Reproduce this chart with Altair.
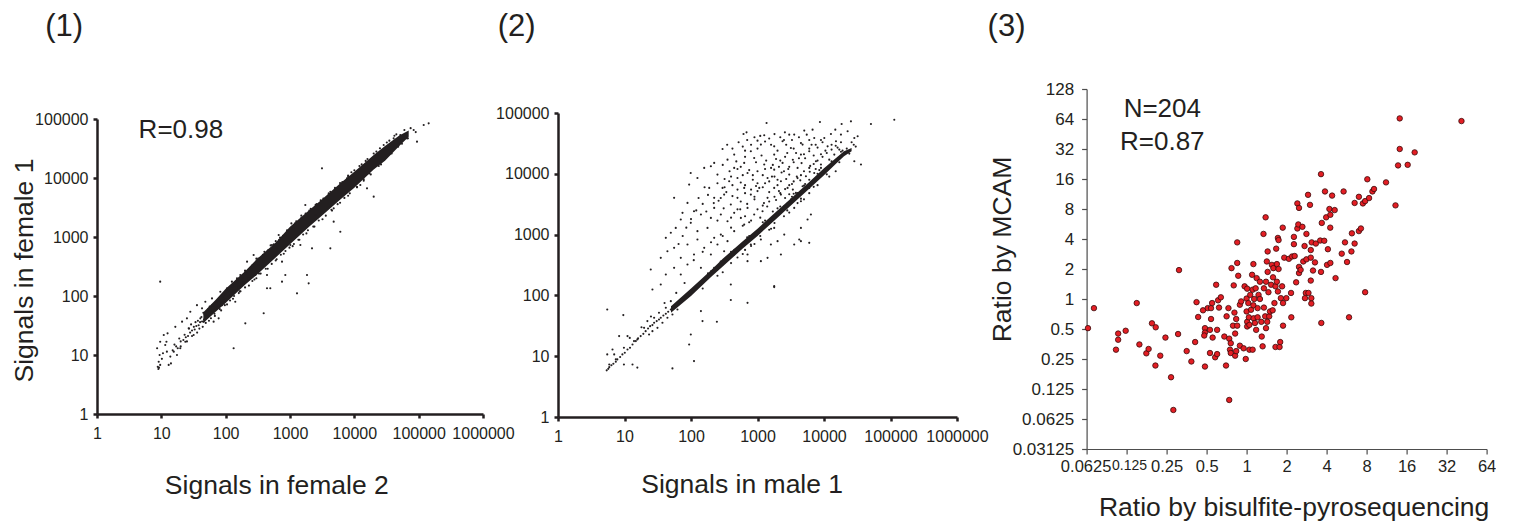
import altair as alt
import pandas as pd

FONT = "Liberation Sans"
INK = "#231f20"
GREY = "#4d4d4d"
RED = "#e31e24"

# ---------------- panel (1): female 2 (x) vs female 1 (y) ----------------
p1_core_x = [45, 70, 100, 200, 300, 600, 1000, 2000, 3000, 6000, 10000, 20000, 30000, 50000, 70000]
p1_core_lo = [35, 54, 76, 155, 225, 450, 755, 1500, 2200, 4300, 6850, 14000, 19600, 35000, 50000]
p1_core_hi = [53, 86, 133, 262, 415, 805, 1490, 2860, 4150, 8100, 12800, 24500, 35000, 52500, 64000]

p1_points = [
    (8.8, 6.3), (9.1, 7.7), (9.4, 10), (8.6, 13), (9.6, 16.8), (10.9, 21.8), (12.0, 16.8), (12.2, 11.4),
    (13.0, 6.8), (14.1, 7.2), (9.0, 5.8), (9.2, 6.1), (9.6, 6.8), (10.2, 8.6), (10.6, 10.7), (11.5, 14.8),
    (12.5, 23.3), (13.8, 9.4), (15.6, 11.4), (17.5, 10), (16.5, 30), (19.7, 13), (21, 36.7), (23.6, 16.8),
    (25, 41.8), (26.6, 28.3), (28.2, 54), (31.8, 21.8), (35.8, 70), (40.4, 41.8), (42.9, 61.8), (45.5, 36.7),
    (48.3, 80), (51.3, 47.6), (56.4, 66), (61.3, 91), (65, 36.7), (69, 58), (73, 80), (77.8, 41.8),
    (82.6, 118), (87.7, 70), (93, 91), (105, 135), (118, 104), (125, 175), (133, 126), (141, 80),
    (150, 187), (159, 144), (169, 227), (179, 154), (202, 258), (215, 382), (228, 199), (242, 294),
    (272, 495), (289, 227), (326, 335), (390, 382), (439, 564), (439, 227), (494, 135), (525, 731),
    (628, 643), (667, 1081), (751, 382), (846, 227), (1012, 731), (1140, 1403), (1449, 731), (1730, 3480),
    (2198, 643), (2477, 2360), (3141, 14590), (4236, 5860), (4775, 1820), (6055, 1230), (15740, 6680),
    (20000, 4830), (22500, 24550), (28580, 36220), (40840, 46990), (65900, 46990), (94200, 41300),
    (119700, 79100), (143000, 84500), (83600, 65200), (51900, 53500), (15740, 12800), (12390, 7600),
    (7690, 9860), (4775, 3060), (4236, 643), (1837, 227), (1950, 164), (1285, 111), (751, 175),
    (439, 135), (390, 51), (202, 34.4), (133, 13), (9.6, 175),
]
p1_low_band = [
    (15, 12), (17, 14), (18, 13), (20, 17), (22, 18), (24, 20), (26, 21), (28, 24), (30, 26), (33, 27),
    (35, 31), (38, 32), (40, 36), (43, 37), (46, 40), (50, 43), (53, 47), (56, 48), (60, 52), (63, 56),
    (66, 57), (70, 62), (74, 64), (78, 68), (82, 70), (86, 76), (90, 78), (95, 83), (100, 88), (110, 97),
    (120, 104), (130, 115), (145, 126), (160, 140), (175, 150), (190, 168),
    (16, 15), (19, 19), (23, 22), (27, 28), (32, 30), (37, 38), (42, 44), (47, 49), (52, 55), (58, 61),
    (64, 68), (72, 75), (80, 84), (88, 96), (98, 107), (108, 118), (122, 135), (138, 150), (155, 175),
    (180, 200), (210, 240), (250, 280),
    (20, 14), (25, 17), (30, 21), (36, 24), (44, 30), (55, 38), (68, 46), (85, 57), (105, 72), (130, 90),
    (160, 112), (200, 140), (260, 180), (330, 240),
    (29, 33), (34, 36), (39, 28), (45, 52), (49, 35), (54, 60), (59, 42), (62, 70), (67, 50), (76, 84),
    (81, 60), (92, 104), (97, 70), (112, 126), (117, 84), (127, 145), (135, 100), (150, 165), (165, 120),
]
p1_fringe = [
    (300, 430), (400, 560), (500, 720), (600, 850), (700, 980), (900, 1300), (1200, 1700), (1500, 2100),
    (2000, 2800), (2500, 3500), (3000, 4200), (4000, 5500), (5000, 6800), (6000, 8200), (8000, 11000),
    (9000, 12500), (12000, 16000), (15000, 19500), (20000, 26000), (25000, 32000), (35000, 43000),
    (45000, 55000), (300, 200), (450, 290), (600, 400), (800, 520), (1100, 700), (1400, 900), (1800, 1150),
    (2400, 1500), (3200, 2000), (4500, 2800), (6000, 3800), (8000, 5000), (11000, 7000), (14000, 9000),
    (18000, 11500), (26000, 17000), (38000, 26000), (55000, 38000),
    (150, 200), (170, 120), (200, 270), (230, 150), (260, 330), (280, 190), (320, 430), (350, 240),
    (380, 500), (420, 290), (460, 600), (520, 350), (560, 750), (620, 420), (680, 900), (720, 500),
    (780, 1050), (850, 580), (920, 1250), (980, 660), (1050, 1700), (1150, 760), (1250, 1850), (1350, 900),
    (1500, 2300), (1600, 1100), (1750, 2500), (1900, 1300), (2100, 3000), (2300, 1500), (2600, 3600),
    (2800, 1900), (3300, 4500), (3600, 2300), (4000, 5300), (4400, 2900), (5000, 6500), (5500, 3600),
    (6500, 8500), (7000, 4600), (8000, 10500), (8500, 5500), (10000, 13500), (11000, 7000),
    (13000, 17000), (14000, 9500), (16000, 21000), (17000, 12000), (22000, 28000), (24000, 16000),
    (32000, 40000), (36000, 26000), (42000, 52000), (48000, 34000), (60000, 65000), (68000, 47000),
    (75000, 70000), (90000, 60000),
]

# ---------------- panel (2): male 1 (x) vs female 1 (y) ----------------
p2_core_x = [50, 100, 200, 300, 600, 1000, 2000, 3000, 6000, 10000, 15000, 20000, 26000]
p2_core_lo = [52, 98, 200, 300, 590, 950, 1900, 2850, 5700, 9500, 14500, 19500, 23500]
p2_core_hi = [66, 130, 260, 400, 780, 1250, 2500, 3700, 7300, 12300, 18000, 23500, 26500]

p2_cloud = [
    (1368, 68500), (8685, 71100), (684, 48100), (616, 45200), (1262, 43000), (2582, 48100), (3565, 44100),
    (7129, 38800), (5047, 51300), (25410, 72900), (50820, 65900), (114000, 77600), (18410, 65900),
    (14790, 53200), (12710, 45200), (10100, 38800), (6731, 53200), (4764, 30200), (1783, 28300),
    (2382, 34300), (1124, 30200), (1000, 35100), (794, 23500), (446, 20700), (298, 25600), (223, 15100),
    (354, 17100), (446, 12500), (631, 15100), (891, 18200), (1262, 14200), (1783, 20700), (2382, 15100),
    (3177, 26600), (4497, 20700), (5998, 23500), (7561, 16100), (11330, 28300), (15130, 34300),
    (17990, 44100), (22650, 50000), (28560, 38800), (32060, 41400), (35970, 14200), (28560, 16100),
    (99, 10300), (125, 8550), (158, 12500), (199, 13300), (250, 9700), (298, 5860), (375, 7540),
    (500, 8550), (708, 10300), (1000, 11000), (1416, 8550), (1783, 11700), (2249, 7540), (3000, 9700),
    (4006, 12500), (5346, 9100), (7129, 10300), (8995, 14200), (12000, 17100), (14280, 20700),
    (16980, 25000), (20180, 22000), (93.8, 6650), (188, 5860), (223, 4020), (315, 4550), (397, 3120),
    (500, 4020), (631, 5860), (794, 4550), (1062, 5860), (1416, 4020), (1783, 5860), (2249, 4550),
    (2831, 5860), (3781, 4850), (4764, 6240), (5998, 5860), (4497, 3540), (3565, 2750),
    (55.7, 4020), (74.5, 2280), (88.5, 3320), (111, 2420), (141, 2140), (199, 1880), (223, 2750),
    (281, 2140), (354, 1660), (446, 2280), (562, 1880), (708, 2750), (891, 2140), (1191, 2420),
    (1589, 1770), (2003, 2140), (2523, 2930),
    (41.8, 884), (49.7, 1070), (59, 1290), (70.2, 1770), (99.3, 1560), (125, 1140), (177, 1290),
    (223, 884), (281, 1000), (354, 780), (446, 1140), (631, 1460), (794, 687), (1124, 830), (1589, 687),
    (2003, 780), (2523, 1000), (1783, 1290),
    (35.1, 415), (44.2, 533), (55.7, 605), (70.2, 415), (88.5, 687), (125, 830), (158, 605), (199, 471),
    (250, 687), (315, 533), (446, 471), (562, 605), (708, 471), (1416, 415), (2249, 471), (3565, 687),
    (4497, 780), (5663, 1770), (4497, 1290), (6355, 2140),
    (24.8, 267), (26.3, 125), (35.1, 151), (41.8, 221), (55.7, 284), (70.2, 221), (88.5, 322), (111, 471),
    (141, 284), (223, 284), (397, 151), (708, 366), (1124, 366), (1783, 142), (4244, 830), (5998, 731),
    (350, 30000), (420, 26000), (520, 33000), (600, 28000), (700, 36000), (900, 40000), (1100, 42000),
    (1500, 38000), (1800, 45000), (2200, 40000), (2700, 30000), (3300, 36000), (4200, 40000),
    (5500, 44000), (6500, 30000), (8000, 27000), (9500, 33000), (13000, 30000), (16000, 27000),
    (300, 14000), (380, 11000), (480, 16000), (560, 13000), (650, 19000), (750, 11500), (950, 15500),
    (1150, 20000), (1350, 16500), (1600, 12500), (1900, 17500), (2100, 13000), (2600, 19000),
    (2900, 12000), (3400, 17000), (3800, 22000), (4600, 15000), (5200, 18000), (6200, 13500),
    (7000, 20000), (9000, 21000), (10500, 24000),
    (250, 7000), (320, 8200), (420, 6500), (560, 7200), (600, 9500), (850, 8000), (950, 6300),
    (1200, 9500), (1300, 7000), (1650, 9000), (2000, 6500), (2300, 10500), (2700, 8200), (3300, 6800),
    (3900, 9000), (4400, 7800), (5200, 6800), (6100, 10800), (7500, 12000), (8500, 11500),
    (180, 4500), (260, 3600), (340, 5000), (420, 4300), (560, 3500), (650, 4800), (900, 3800),
    (1000, 5200), (1250, 3300), (1500, 5000), (1900, 3700), (2100, 5200), (2600, 4000), (3000, 4600),
    (3400, 5500), (4000, 4800),
    (150, 3200), (170, 2400), (250, 1700), (310, 2700), (400, 1900), (500, 2600), (650, 2000),
    (800, 1700), (1000, 2600), (1100, 1900), (1400, 2900), (1700, 2400), (2300, 2500), (2800, 3200),
    (3200, 3800),
    (1200, 3000), (1500, 3500), (1800, 4200), (2200, 4800), (2600, 5600), (3000, 6500), (3500, 7500),
    (4000, 8500), (4500, 9500), (5000, 11000), (6000, 12500), (7000, 14500), (8000, 16500),
    (9500, 19000), (11000, 22000), (13000, 25000), (15000, 29000), (18000, 33000), (2000, 8000),
    (2500, 11000), (3000, 13000), (3500, 15500), (4200, 18000), (5000, 21000), (6000, 26000),
    (7500, 30000), (9000, 36000), (1200, 6000), (1500, 7500), (1800, 9000), (800, 5500), (1000, 7000),
    (1300, 12000), (1700, 14000), (2200, 16500), (2800, 22000), (3500, 26000), (4500, 32000),
    (6000, 36000), (700, 3200), (900, 4200), (550, 2600), (650, 6500), (850, 9500), (500, 12000),
    (650, 24000), (800, 30000), (1000, 26000), (1300, 34000), (1600, 30000), (2000, 24000),
    (2500, 36000), (3000, 44000), (400, 9000), (500, 5500), (320, 6000), (280, 4000), (220, 3300),
    (160, 6000), (130, 4000), (120, 2500), (100, 1800), (85, 1300), (75, 950), (65, 700), (600, 1400),
    (750, 1600), (400, 1300), (300, 950), (200, 750), (150, 520), (110, 380),
]
p2_low = [
    (5.5, 58.7), (9.6, 47.4), (8.3, 21.4), (11.1, 21.4), (13.9, 17.7), (15.6, 18.9), (9.8, 13.8),
    (6.6, 12.9), (7.0, 10.7), (7.4, 8.85), (5.5, 10.7), (5.9, 7.3), (9.8, 7.3), (13.2, 7.3), (15.6, 6.5),
    (52.6, 6.3), (111, 8.3), (99.3, 22.8), (93.8, 15.6), (141, 55.2), (149, 37.8), (245, 36.8),
    (397, 84), (708, 75.5), (1783, 137),
]
p2_band = [
    (5.4, 5.85), (5.7, 6.2), (5.9, 6.6), (6.35, 7.1), (6.8, 7.5), (7.4, 8.1), (7.8, 8.85), (8.6, 9.7),
    (9.3, 10.7), (10.1, 11.4), (11.1, 12.9), (12.1, 13.8), (13.2, 15.6), (14.8, 17.7), (16, 19.6),
    (17.5, 21.4), (19.2, 23.3), (20.8, 25.8), (22.6, 28.6), (24.3, 31.2), (26.3, 32.5), (27.9, 35.5),
    (30.5, 37.8), (33, 40.2), (35.1, 42.9), (38.4, 46.8), (41.8, 49.9), (45.4, 53.9), (49.7, 58.7),
    (54.4, 62.6), (59, 66.7), (64, 72.5), (70.2, 78.8), (77, 84.5), (83.5, 91.4), (93.8, 101),
    (23.4, 22.8), (26.3, 25.8), (31.3, 29.3), (37.2, 35.5), (44.2, 42.9), (52.6, 48.5), (62.5, 58.7),
    (19.7, 29.3), (22.1, 37.8), (27.9, 42.9), (33, 51.9), (41.8, 62.6), (49.7, 80.5),
    (300, 240), (500, 420), (800, 650), (1500, 1200), (2500, 2000), (4000, 3300), (6000, 4800),
    (12000, 9000), (15000, 11000), (200, 250), (400, 520), (700, 900), (1200, 1600), (2000, 2700),
    (3500, 4700), (6000, 8000), (9000, 12500), (18000, 23000), (22000, 26000), (30000, 28000),
    (26000, 33000),
    (150, 130), (180, 230), (250, 210), (280, 360), (400, 340), (450, 560), (650, 560), (750, 950),
    (1100, 950), (1300, 1700), (1800, 1550), (2200, 2900), (2800, 2500), (3300, 4200), (4500, 3900),
    (5000, 6400), (7000, 6100), (8000, 10000), (11000, 9800), (13000, 16000), (17000, 15500),
    (19000, 24000), (24000, 21500), (28000, 30000), (600, 480), (900, 700), (1600, 1250), (3000, 2300),
    (5000, 3800), (8000, 6500), (12, 20), (18, 30), (25, 45), (40, 75), (60, 110), (80, 160),
]

# ---------------- panel (3): bisulfite-pyrosequencing (x) vs MCAM (y) ----------------
p3_x = [0.064, 0.071, 0.104, 0.108, 0.108, 0.123, 0.149, 0.156, 0.176, 0.183,
        0.194, 0.207, 0.206, 0.224, 0.245, 0.27, 0.281, 0.305, 0.31, 0.354,
        0.384, 0.41, 0.42, 0.432, 0.47, 0.486, 0.486, 0.48, 0.486, 0.51,
        0.53, 0.54, 0.54, 0.55, 0.53, 0.555, 0.58, 0.60, 0.60, 0.59,
        0.61, 0.62, 0.64, 0.68, 0.70, 0.707, 0.73, 0.74, 0.74, 0.76,
        0.75, 0.76, 0.77, 0.79, 0.81, 0.80, 0.82, 0.82, 0.835, 0.835,
        0.85, 0.85, 0.865, 0.85, 0.89, 0.89, 0.91, 0.95, 0.966, 0.985,
        1.0, 1.0, 1.01, 1.01, 1.01, 1.03, 1.04, 1.05, 1.05, 1.065,
        1.08, 1.10, 1.11, 1.11, 1.125, 1.125, 1.13, 1.14, 1.155, 1.18,
        1.17, 1.19, 1.21, 1.21, 1.23, 1.26, 1.26, 1.29, 1.30, 1.32,
        1.34, 1.35, 1.35, 1.38, 1.39, 1.40, 1.40, 1.42, 1.43, 1.44,
        1.44, 1.46, 1.48, 1.50, 1.53, 1.55, 1.58, 1.57, 1.59, 1.62,
        1.65, 1.65, 1.67, 1.69, 1.69, 1.72, 1.72, 1.74, 1.74, 1.77,
        1.79, 1.81, 1.85, 1.87, 1.88, 1.88, 1.92, 1.99, 2.08, 2.16,
        2.17, 2.2, 2.27, 2.27, 2.3, 2.36, 2.41, 2.41, 2.45, 2.48,
        2.48, 2.48, 2.55, 2.63, 2.67, 2.73, 2.75, 2.79, 2.82, 2.82,
        2.9, 2.92, 3.0, 3.04, 3.04, 3.07, 3.07, 3.09, 3.04, 3.16,
        3.27, 3.32, 3.58, 3.63, 3.63, 3.65, 3.68, 3.84, 3.89, 3.97,
        4.03, 4.09, 4.2, 4.26, 4.27, 4.27, 4.4, 4.6, 4.67, 5.2,
        5.37, 5.5, 5.7, 5.9, 6.15, 6.2, 6.5, 6.5, 7.0, 7.0,
        7.25, 7.5, 7.8, 7.8, 8.1, 8.35, 8.85, 9.1, 11.2, 13.2,
        13.8, 14.2, 14.2, 16.3, 18.4, 41.4]
p3_y = [0.51, 0.81, 0.31, 0.45, 0.39, 0.48, 0.91, 0.35, 0.285, 0.315,
        0.57, 0.52, 0.215, 0.27, 0.41, 0.164, 0.077, 0.445, 1.95, 0.30,
        0.236, 0.37, 0.93, 0.66, 0.77, 0.51, 0.46, 0.43, 0.21, 0.81,
        0.49, 0.63, 0.81, 0.91, 0.287, 0.41, 0.26, 0.49, 0.28, 1.39,
        0.97, 0.82, 1.04, 0.42, 0.215, 0.67, 0.81, 0.097, 0.40, 0.36,
        0.31, 0.287, 2.04, 0.54, 0.73, 1.37, 0.45, 0.27, 0.30, 0.63,
        3.7, 2.3, 1.71, 0.54, 0.876, 0.34, 0.946, 0.32, 1.34, 0.25,
        1.01, 0.75, 1.27, 0.59, 0.53, 0.91, 0.655, 0.55, 0.31, 1.10,
        0.78, 1.75, 0.31, 1.24, 2.24, 0.865, 0.64, 1.0, 0.575, 0.49,
        1.28, 1.62, 0.81, 0.655, 1.10, 1.49, 1.0, 0.59, 0.42, 0.335,
        4.5, 1.28, 0.82, 0.67, 6.6, 1.49, 0.51, 2.38, 0.59, 3.0,
        1.87, 1.17, 0.67, 0.75, 1.39, 2.2, 1.65, 0.77, 2.04, 0.91,
        0.33, 1.34, 3.2, 2.24, 1.49, 4.1, 1.19, 3.9, 2.0, 0.33,
        0.37, 1.02, 1.34, 5.2, 0.91, 0.54, 2.6, 1.02, 2.53, 1.15,
        0.655, 2.67, 4.2, 3.55, 2.7, 1.47, 5.1, 9.1, 5.6, 8.2,
        2.1, 1.82, 1.96, 5.3, 2.38, 3.4, 1.02, 1.15, 4.5, 2.5,
        11.1, 1.15, 8.8, 3.1, 2.6, 1.02, 0.90, 3.7, 1.53, 1.93,
        2.33, 3.6, 3.86, 17.9, 1.87, 0.575, 5.8, 3.84, 12.0, 6.6,
        2.2, 3.16, 8.0, 5.2, 7.0, 2.3, 10.9, 7.8, 1.62, 2.85,
        12.0, 3.7, 2.35, 0.655, 3.0, 4.56, 3.6, 9.2, 4.8, 10.6,
        5.1, 9.1, 9.6, 1.17, 15.9, 10.3, 12.0, 12.7, 14.8, 8.7,
        21.9, 64.9, 32, 22.2, 29.6, 61]

dec_ticks_x = [1, 10, 100, 1000, 10000, 100000, 1000000]
dec_ticks_y = [1, 10, 100, 1000, 10000, 100000]
pow2_ticks_x = [0.0625, 0.125, 0.25, 0.5, 1, 2, 4, 8, 16, 32, 64]
pow2_ticks_y = [0.03125, 0.0625, 0.125, 0.25, 0.5, 1, 2, 4, 8, 16, 32, 64, 128]

panel_labels = ["(1)", "(2)", "(3)"]
stat_text_1 = ["R=0.98"]
stat_text_3 = ["N=204", "R=0.87"]

TITLE_SIZE = 26.5


def ink_axis(values, title=None, pad=5, size=16, color=INK, width=2.5, tick=4, **extra):
    kw = dict(values=values, labelExpr="'' + datum.value", grid=False,
              domainColor=color, domainWidth=width, tickColor=color, tickWidth=width,
              tickSize=tick, labelFont=FONT, labelFontSize=size, labelColor=INK,
              labelFlush=False, labelOverlap=False, labelPadding=pad,
              titleFont=FONT, titleFontSize=TITLE_SIZE, titleColor=INK, titleFontWeight="normal")
    kw.update(extra)
    kw["title"] = title
    return alt.Axis(**kw)


def pts_df(pairs):
    return pd.DataFrame(pairs, columns=["x", "y"])


def dense_panel(core_x, core_lo, core_hi, point_sets, xaxis, yaxis, w, h, extra_layers=()):
    sx = alt.Scale(type="log", domain=[1, 1000000], nice=False)
    sy = alt.Scale(type="log", domain=[1, 100000], nice=False)
    core = pd.DataFrame({"x": core_x, "lo": core_lo, "hi": core_hi})
    area = alt.Chart(core).mark_area(color=INK, opacity=1).encode(
        x=alt.X("x:Q", scale=sx, axis=xaxis),
        y=alt.Y("lo:Q", scale=sy, axis=yaxis),
        y2="hi:Q",
    )
    df = pd.concat([pts_df(p) for p in point_sets], ignore_index=True)
    dots = alt.Chart(df).mark_circle(size=4.5, color=INK, opacity=1).encode(
        x=alt.X("x:Q", scale=sx, axis=xaxis),
        y=alt.Y("y:Q", scale=sy, axis=yaxis),
    )
    return alt.layer(area, dots, *extra_layers).properties(width=w, height=h)


def label_cell(text, dx, h):
    df = pd.DataFrame({"t": [text]})
    return alt.Chart(df).mark_text(align="left", baseline="alphabetic", fontSize=31,
                                   font=FONT, color=INK).encode(
        x=alt.value(dx), y=alt.value(27.7), text="t:N").properties(width=1, height=h)


# panel 1
ax1x = ink_axis(dec_ticks_x, "Signals in female 2", pad=7, titleX=179.3, titleY=58.5)
ax1y = ink_axis(dec_ticks_y, "Signals in female 1", pad=5, titleX=-58.7, titleY=151,
                titleAngle=270, titleBaseline="bottom")
r1 = alt.Chart(pd.DataFrame({"t": stat_text_1})).mark_text(
    align="left", baseline="alphabetic", fontSize=26, font=FONT, color=INK).encode(
    x=alt.value(41.6), y=alt.value(18.6), text="t:N")
P1 = dense_panel(p1_core_x, p1_core_lo, p1_core_hi, [p1_points, p1_low_band, p1_fringe],
                 ax1x, ax1y, 386, 295, [r1])

# panel 2
ax2x = ink_axis(dec_ticks_x, "Signals in male 1", pad=7, titleX=183.7, titleY=54.6)
ax2y = ink_axis(dec_ticks_y, None, pad=5)
P2 = dense_panel(p2_core_x, p2_core_lo, p2_core_hi, [p2_cloud, p2_low, p2_band],
                 ax2x, ax2y, 399, 304)

# panel 3
sx3 = alt.Scale(type="log", base=2, domain=[0.0625, 64], nice=False)
sy3 = alt.Scale(type="log", base=2, domain=[0.03125, 128], nice=False)
x3_label_shift = {"condition": [{"test": "datum.value == 0.125", "value": 2.5},
                                {"test": "datum.value == 0.0625", "value": -1}],
                  "value": 0}
x3_label_size = {"condition": {"test": "datum.value == 0.125", "value": 14}, "value": 16.5}
ax3x = ink_axis(pow2_ticks_x, "Ratio by bisulfite-pyrosequencing", pad=4, size=x3_label_size,
                color=GREY, width=1.2, tick=5, titleX=207, titleY=45.5, labelOffset=x3_label_shift)
ax3y = ink_axis(pow2_ticks_y, "Ratio by MCAM", pad=8, size=17, color=GREY, width=1.2, tick=5,
                titleX=-70, titleY=160, titleAngle=270, titleBaseline="bottom")
df3 = pd.DataFrame({"x": p3_x, "y": p3_y})
dots3 = alt.Chart(df3).mark_circle(size=30, fill=RED, stroke="#3a0a0a", strokeWidth=0.8,
                                   opacity=1).encode(
    x=alt.X("x:Q", scale=sx3, axis=ax3x),
    y=alt.Y("y:Q", scale=sy3, axis=ax3y),
)
n3 = alt.Chart(pd.DataFrame({"t": stat_text_3[:1]})).mark_text(
    align="center", baseline="alphabetic", fontSize=26, font=FONT, color=INK).encode(
    x=alt.value(75.7), y=alt.value(27.6), text="t:N")
rr3 = alt.Chart(pd.DataFrame({"t": stat_text_3[1:]})).mark_text(
    align="center", baseline="alphabetic", fontSize=26, font=FONT, color=INK).encode(
    x=alt.value(75.7), y=alt.value(61), text="t:N")
P3 = alt.layer(dots3, n3, rr3).properties(width=400, height=360)

W1 = alt.vconcat(label_cell(panel_labels[0], -51.7, 103), P1, spacing=0)
W2 = alt.vconcat(label_cell(panel_labels[1], -60.3, 97), P2, spacing=0)
W3 = alt.vconcat(label_cell(panel_labels[2], -99, 72), P3, spacing=0)

inner = alt.hconcat(W1, W2, spacing=-20)
chart = alt.hconcat(inner, W3, spacing=-1.4).properties(
    padding={"left": 3, "top": 0, "right": 0, "bottom": 0}, background="white"
).configure_view(strokeWidth=0, stroke="transparent")

chart.save("out.html", embed_options={"renderer": "svg", "actions": False})
